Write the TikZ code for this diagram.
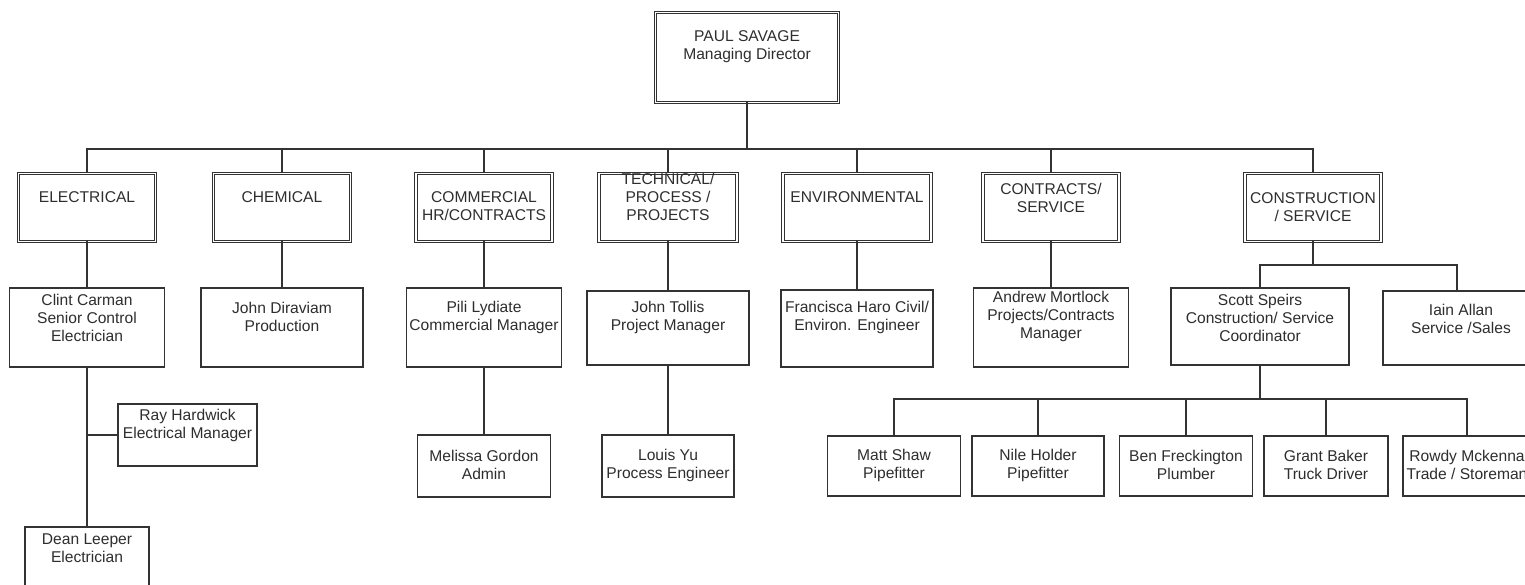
\documentclass[tikz,border=0pt]{standalone}
\usepackage{fontspec}
\setmainfont{Liberation Sans}
\usetikzlibrary{calc}
\definecolor{linec}{HTML}{333333}
\definecolor{txtc}{HTML}{2E2E2E}
\tikzset{
  txt/.style={align=center, font=\fontsize{15.6}{18}\selectfont, text=txtc, inner sep=0pt},
  sbox/.style n args={2}{draw=linec, line width=1.2pt, fill=white, inner sep=0pt, outer sep=0pt,
     minimum width=#1pt, minimum height=#2pt},
  dbox/.style n args={2}{draw=linec, line width=0.9pt, double=white, double distance=1.4pt,
     inner sep=0pt, outer sep=0pt, minimum width=#1pt, minimum height=#2pt},
  conn/.style={draw=linec, line width=1.3pt},
}
\begin{document}
\begin{tikzpicture}[x=1pt, y=-1pt]
\useasboundingbox (0,0) rectangle (1525,585);
% top
\node[dbox={183}{90}, label={[txt,yshift=10.5pt]center:PAUL SAVAGE\\Managing Director}] (ps) at (747,57.5) {};
% departments
\node[dbox={137}{68}, label={[txt,yshift=10.5pt]center:ELECTRICAL}] (elec) at (87,207.5) {};
\node[dbox={137}{68}, label={[txt,yshift=10.5pt]center:CHEMICAL}] (chem) at (282,207.5) {};
\node[dbox={136}{68}, label={[txt,yshift=1.5pt]center:COMMERCIAL\\HR/CONTRACTS}] (comm) at (484,207.5) {};
\node[dbox={138}{68}, label={[txt,yshift=10.5pt]center:TECHNICAL/\\PROCESS /\\PROJECTS}] (tech) at (668,207.5) {};
\node[dbox={148}{68}, label={[txt,yshift=10.5pt]center:ENVIRONMENTAL}] (env) at (857,207.5) {};
\node[dbox={136}{68}, label={[txt,yshift=9.5pt]center:CONTRACTS/\\SERVICE}] (contr) at (1051,207.5) {};
\node[dbox={136}{68}, label={[txt,yshift=0.5pt]center:CONSTRUCTION\\/ SERVICE}] (constr) at (1313,207.5) {};
% level 2
\node[sbox={155}{79}, label={[txt,yshift=10pt]center:Clint Carman\\Senior Control\\Electrician}] (cc) at (87,327.5) {};
\node[sbox={162}{79}, label={[txt,yshift=10.5pt]center:John Diraviam\\Production}] (jd) at (282,327.5) {};
\node[sbox={155}{79}, label={[txt,yshift=10.5pt]center:Pili Lydiate\\Commercial Manager}] (pl) at (484,327.5) {};
\node[sbox={162}{74}, label={[txt,yshift=11pt]center:John Tollis\\Project Manager}] (jt) at (668,328) {};
\node[sbox={152}{77}, label={[txt,yshift=11.5pt]center:Francisca Haro Civil/\\Environ. Engineer}] (fh) at (857,328.5) {};
\node[sbox={155}{79}, label={[txt,yshift=11pt]center:Andrew Mortlock\\Projects/Contracts\\Manager}] (am) at (1051,327.5) {};
\node[sbox={178}{77}, label={[txt,yshift=9pt]center:Scott Speirs\\Construction/ Service\\Coordinator}] (ss) at (1260,326.5) {};
\node[sbox={148}{74}, label={[txt,yshift=9pt,xshift=4pt]center:Iain Allan\\Service /Sales}] (ia) at (1457,328) {};
% level 3
\node[sbox={139}{62}, label={[txt,yshift=10pt]center:Ray Hardwick\\Electrical Manager}] (rh) at (187.5,435) {};
\node[sbox={124}{62}, label={[txt,yshift=10pt]center:Dean Leeper\\Electrician}] (dl) at (87,558) {};
\node[sbox={133}{62}, label={[txt,yshift=1pt]center:Melissa Gordon\\Admin}] (mg) at (484,466) {};
\node[sbox={132}{62}, label={[txt,yshift=1pt]center:Louis Yu\\Process Engineer}] (ly) at (668,466) {};
\node[sbox={133}{60}, label={[txt,yshift=1pt]center:Matt Shaw\\Pipefitter}] (ms) at (894,466) {};
\node[sbox={132}{60}, label={[txt,yshift=1pt]center:Nile Holder\\Pipefitter}] (nh) at (1038,466) {};
\node[sbox={133}{60}, label={[txt,yshift=1pt]center:Ben Freckington\\Plumber}] (bf) at (1186,466) {};
\node[sbox={124}{60}, label={[txt,yshift=1pt]center:Grant Baker\\Truck Driver}] (gb) at (1326,466) {};
\node[sbox={128}{60}, label={[txt,yshift=1pt]center:Rowdy Mckenna\\Trade / Storeman}] (rm) at (1467,466) {};
% connectors
\foreach \d in {elec,chem,comm,tech,env,contr,constr}
  \draw[conn] (ps.south) -- ++(0,46.5) -| (\d.north);
\draw[conn] (elec.south) -- (elec.south |- cc.north);
\draw[conn] (chem.south) -- (chem.south |- jd.north);
\draw[conn] (comm.south) -- (comm.south |- pl.north);
\draw[conn] (pl.south) -- (pl.south |- mg.north);
\draw[conn] (tech.south) -- (tech.south |- jt.north);
\draw[conn] (jt.south) -- (jt.south |- ly.north);
\draw[conn] (env.south) -- (env.south |- fh.north);
\draw[conn] (contr.south) -- (contr.south |- am.north);
\draw[conn] (constr.south) -- ++(0,23.5) -| (ss.north);
\draw[conn] (constr.south) -- ++(0,23.5) -| (ia.north);
\draw[conn] (cc.south) -- (cc.south |- dl.north);
\draw[conn] (rh.west) -- (rh.west -| cc.south);
\foreach \d in {ms,nh,bf,gb,rm}
  \draw[conn] (ss.south) -- ++(0,34) -| (\d.north);
\coordinate (blipa) at ($(ia.north)+(-59,-26)$);
\coordinate (blipb) at ($(ia.north)+(-43,-26)$);
\draw[draw=linec, line width=2.2pt] (blipa) -- (blipb);
\end{tikzpicture}
\end{document}
